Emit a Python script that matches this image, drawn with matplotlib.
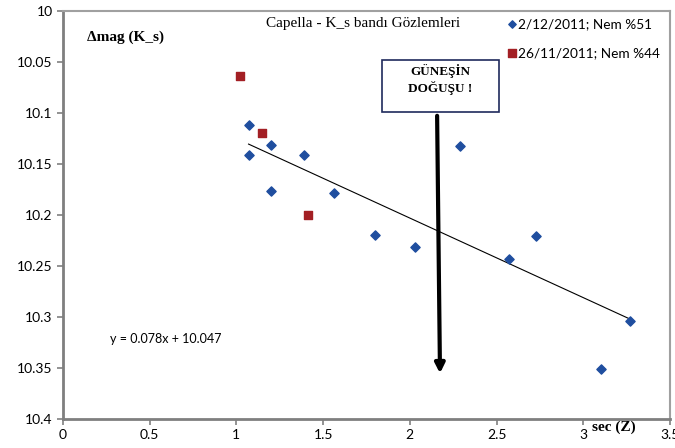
import numpy as np
import matplotlib.pyplot as plt
from matplotlib.patches import Rectangle

# Data
sec_z_a = [1.07, 1.07, 1.20, 1.20, 1.39, 1.56, 1.80, 2.03, 2.29, 2.57, 2.73, 3.10, 3.27]
dmag_a = [10.112, 10.141, 10.131, 10.176, 10.141, 10.178, 10.220, 10.231, 10.132, 10.243, 10.221, 10.351, 10.304]
sec_z_b = [1.02, 1.15, 1.41]
dmag_b = [10.064, 10.120, 10.200]
label_a = "2/12/2011; Nem %51"
label_b = "26/11/2011; Nem %44"

# trend line (blue series)
slope, intercept = 0.078, 10.047
fit_x = np.array([min(sec_z_a), max(sec_z_a)])
fit_y = slope * fit_x + intercept

blue = "#1F4E9F"
red = "#A31F24"
sans = ["Lato", "DejaVu Sans"]
serif = ["Liberation Serif", "DejaVu Serif"]

fig = plt.figure(figsize=(6.75, 4.48), dpi=100)
ax = fig.add_axes([0.0933, 0.0647, 0.8993, 0.9107])

ax.scatter(sec_z_a, dmag_a, marker="D", s=22, color=blue, zorder=3)
ax.scatter(sec_z_b, dmag_b, marker="s", s=40, color=red, zorder=3)
ax.plot(fit_x, fit_y, color="black", lw=0.8, zorder=2)

ax.set_xlim(0, 3.5)
ax.set_ylim(10.4, 10.0)
ax.set_xticks(np.arange(0, 3.51, 0.5))
ax.set_xticklabels(["0", "0.5", "1", "1.5", "2", "2.5", "3", "3.5"])
ax.set_yticks(np.arange(10.0, 10.401, 0.05))
ax.set_yticklabels(["10", "10.05", "10.1", "10.15", "10.2", "10.25", "10.3", "10.35", "10.4"])
for lab in ax.get_xticklabels() + ax.get_yticklabels():
    lab.set_family(sans)
    lab.set_fontsize(10)
ax.tick_params(direction="out", length=4, color="#808080", width=1.2)
for side in ["left", "bottom"]:
    ax.spines[side].set_color("#7F7F7F")
    ax.spines[side].set_linewidth(2)
for side in ["top", "right"]:
    ax.spines[side].set_color("#A0A0A0")
    ax.spines[side].set_linewidth(1.5)

# texts
ax.text(0.494, 0.985, "Capella - K_s bandı Gözlemleri", transform=ax.transAxes,
        ha="center", va="top", family=serif, fontsize=11)
ax.text(0.04, 0.935, "Δmag (K_s)", transform=ax.transAxes, ha="left", va="center",
        family=serif, fontsize=11, fontweight="bold")
ax.text(3.05, 10.408, "sec (Z)", ha="left", va="center", family=serif,
        fontsize=11, fontweight="bold", clip_on=False)
ax.text(0.27, 10.322, "y = 0.078x + 10.047", ha="left", va="center",
        family=sans, fontsize=9)

# legend (manual, Excel-like)
ax.scatter([2.59], [10.013], marker="D", s=14, color=blue, clip_on=False)
ax.text(2.625, 10.013, label_a, ha="left", va="center", family=sans, fontsize=9.8)
ax.scatter([2.59], [10.041], marker="s", s=30, color=red, clip_on=False)
ax.text(2.625, 10.041, label_b, ha="left", va="center", family=sans, fontsize=9.8)

# sunrise annotation
ax.add_patch(Rectangle((1.84, 10.048), 0.674, 0.051, fc="white", ec="#1F2A5C", lw=1.2, zorder=4))
ax.text(2.177, 10.067, "GÜNEŞİN\nDOĞUŞU !", ha="center", va="center", family=serif,
        fontsize=9.5, fontweight="bold", linespacing=1.3, zorder=5)
ax.annotate("", xy=(2.174, 10.358), xytext=(2.157, 10.100),
            arrowprops=dict(arrowstyle="-|>", color="black", lw=3, mutation_scale=14))

fig.savefig("out.png", dpi=100)
